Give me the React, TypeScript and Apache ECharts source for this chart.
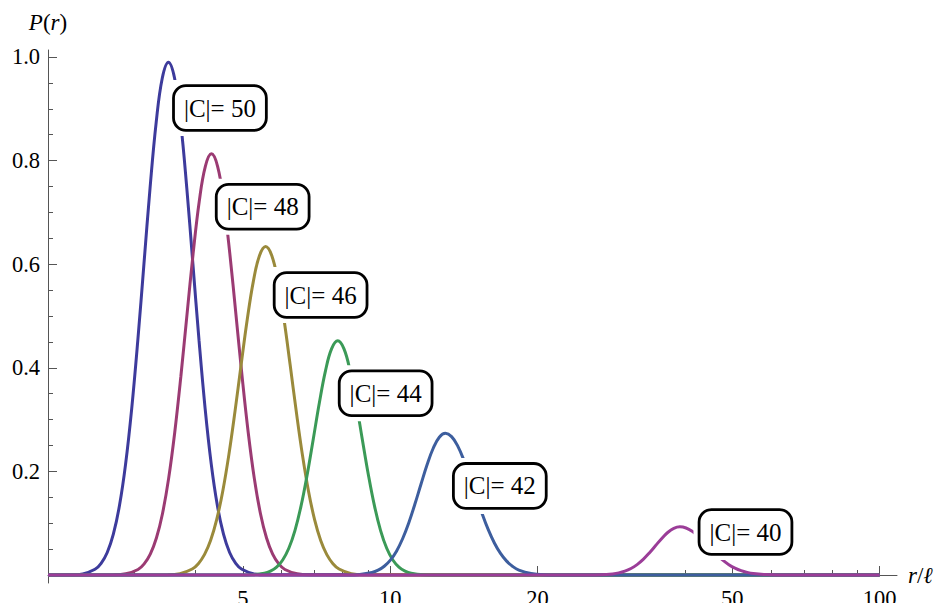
import React, { useEffect, useRef } from "react";
import * as echarts from "echarts";

// Curve samples (r = x, P(r) = y)
const r50 = [2, 2.2235, 2.3552, 2.4948, 2.5677, 2.6426, 2.7198, 2.7992, 2.8809, 2.9651, 3.0516, 3.1408, 3.2325, 3.3269, 3.424, 3.524, 3.6269, 3.7328, 3.8418, 3.954, 4.0694, 4.1883, 4.3106, 4.4365, 4.566, 4.6993, 4.8366, 4.9778, 5.2728, 5.5851, 100];
const p50 = [0, 0.0003, 0.0022, 0.011, 0.0226, 0.0435, 0.0788, 0.134, 0.2141, 0.3214, 0.4533, 0.6005, 0.7473, 0.8737, 0.9595, 0.99, 0.9595, 0.8737, 0.7473, 0.6005, 0.4533, 0.3214, 0.2141, 0.134, 0.0788, 0.0435, 0.0226, 0.011, 0.0022, 0.0003, 0];

const r48 = [2, 2.7226, 2.8839, 3.0548, 3.144, 3.2358, 3.3303, 3.4276, 3.5276, 3.6306, 3.7366, 3.8457, 3.9581, 4.0736, 4.1926, 4.315, 4.441, 4.5707, 4.7041, 4.8415, 4.9829, 5.1284, 5.2782, 5.4323, 5.5909, 5.7541, 5.9222, 6.0951, 6.4563, 6.8388, 100];
const p48 = [0, 0.0004, 0.0023, 0.0107, 0.0215, 0.0403, 0.0714, 0.1189, 0.1866, 0.2757, 0.3837, 0.5028, 0.6204, 0.721, 0.7889, 0.813, 0.7889, 0.721, 0.6204, 0.5028, 0.3837, 0.2757, 0.1866, 0.1189, 0.0714, 0.0403, 0.0215, 0.0107, 0.0023, 0.0004, 0];

const r46 = [2, 3.5126, 3.7206, 3.9412, 4.0562, 4.1746, 4.2966, 4.422, 4.5511, 4.6841, 4.8208, 4.9616, 5.1065, 5.2556, 5.4091, 5.567, 5.7296, 5.8968, 6.069, 6.2463, 6.4287, 6.6164, 6.8096, 7.0085, 7.2131, 7.4237, 7.6405, 7.8636, 8.3296, 8.8231, 100];
const p46 = [0, 0.0005, 0.0027, 0.0116, 0.0219, 0.0393, 0.0666, 0.1069, 0.1623, 0.2329, 0.3163, 0.4063, 0.4936, 0.5673, 0.6166, 0.634, 0.6166, 0.5673, 0.4936, 0.4063, 0.3163, 0.2329, 0.1623, 0.1069, 0.0666, 0.0393, 0.0219, 0.0116, 0.0027, 0.0005, 0];

const r44 = [2, 4.9316, 5.2237, 5.5333, 5.6949, 5.8611, 6.0323, 6.2085, 6.3897, 6.5764, 6.7683, 6.966, 7.1695, 7.3788, 7.5943, 7.816, 8.0442, 8.2791, 8.5208, 8.7697, 9.0258, 9.2893, 9.5606, 9.8398, 10.127, 10.423, 10.727, 11.04, 11.695, 12.388, 100];
const p44 = [0, 0.0001, 0.0006, 0.0034, 0.0075, 0.0152, 0.029, 0.0516, 0.0858, 0.1334, 0.1936, 0.2627, 0.3331, 0.3947, 0.4369, 0.452, 0.4369, 0.3947, 0.3331, 0.2627, 0.1936, 0.1334, 0.0858, 0.0516, 0.029, 0.0152, 0.0075, 0.0034, 0.0006, 0.0001, 0];

const r42 = [2, 8.1836, 8.6684, 9.1821, 9.4502, 9.7261, 10.01, 10.303, 10.603, 10.913, 11.232, 11.56, 11.897, 12.245, 12.602, 12.97, 13.349, 13.738, 14.14, 14.553, 14.977, 15.415, 15.865, 16.328, 16.805, 17.296, 17.801, 18.321, 19.406, 20.556, 23.064, 100];
const p42 = [0, 0.0002, 0.0012, 0.005, 0.0094, 0.0169, 0.0287, 0.0461, 0.07, 0.1005, 0.1365, 0.1753, 0.2129, 0.2447, 0.266, 0.2735, 0.2672, 0.2492, 0.2219, 0.1886, 0.153, 0.1185, 0.0876, 0.0619, 0.0417, 0.0268, 0.0165, 0.0096, 0.0029, 0.0007, 0.0001, 0];

const r40 = [2, 24.658, 26.119, 27.667, 28.474, 29.306, 30.162, 31.042, 31.949, 32.882, 33.842, 34.83, 35.847, 36.894, 37.971, 39.08, 40.221, 41.396, 42.604, 43.849, 45.129, 46.447, 47.803, 49.199, 50.636, 52.114, 53.636, 55.202, 58.473, 61.938, 100];
const p40 = [0, 0, 0.0002, 0.001, 0.0021, 0.0041, 0.0074, 0.0126, 0.0201, 0.0302, 0.0426, 0.0564, 0.0702, 0.0821, 0.0901, 0.093, 0.0908, 0.0845, 0.0749, 0.0633, 0.051, 0.0391, 0.0286, 0.02, 0.0133, 0.0084, 0.0051, 0.0029, 0.0008, 0.0002, 0];

const curveLabels = ["|C|= 50", "|C|= 48", "|C|= 46", "|C|= 44", "|C|= 42", "|C|= 40"];
// callout anchors in data coordinates [r, P]
const calloutR = [4.49, 5.49, 7.21, 9.79, 16.75, 53.2];
const calloutP = [0.9015, 0.711, 0.5405, 0.351, 0.172, 0.083];

const xMajorTicks = [5, 10, 20, 50, 100];
const xMinorTicks = [3, 4, 6, 7, 8, 9, 30, 40, 60, 70, 80, 90];
const yMajorTicks = [0.2, 0.4, 0.6, 0.8, 1.0];
const yMinorTicks = [0.05, 0.1, 0.15, 0.25, 0.3, 0.35, 0.45, 0.5, 0.55, 0.65, 0.7, 0.75, 0.85, 0.9, 0.95];

const colors = ["#3d3b9c", "#9b3b73", "#9a8a3b", "#3b9a57", "#3d5e9e", "#9b3d98"];

export default function App() {
  const ref = useRef<HTMLDivElement>(null);
  useEffect(() => {
    document.body.style.margin = "0";
    const chart = echarts.init(ref.current!, undefined, { renderer: "svg" });
    const font = "Liberation Serif";
    const axisColor = "#555";
    const rs = [r50, r48, r46, r44, r42, r40];
    const ps = [p50, p48, p46, p44, p42, p40];
    const series = rs.map((r, i) => ({
      type: "line",
      name: curveLabels[i],
      data: r.map((x, j) => [x, ps[i][j]]),
      smooth: 0.4,
      symbol: "none",
      xAxisIndex: 0,
      yAxisIndex: 0,
      lineStyle: { color: colors[i], width: 3 },
      itemStyle: { color: colors[i] },
      markPoint: {
        symbol: "rect",
        symbolSize: [104, 56],
        silent: true,
        itemStyle: { color: "#ffffff" },
        label: {
          show: true,
          position: "inside",
          formatter: "{b}",
          color: "#000",
          fontFamily: font,
          fontSize: 25,
          lineHeight: 25,
          backgroundColor: "#ffffff",
          borderColor: "#000",
          borderWidth: 2.8,
          borderRadius: 11,
          padding: [9, 9, 8, 9],
        },
        data: [{ name: curveLabels[i], coord: [calloutR[i], calloutP[i]] }],
      },
    }));

    const richItalic = { i: { fontStyle: "italic", fontFamily: font, fontSize: 23, color: "#000" } };

    chart.setOption({
      animation: false,
      backgroundColor: "#ffffff",
      textStyle: { fontFamily: font },
      grid: { left: 48, right: 47, top: 50, bottom: 20, containLabel: false, outerBoundsMode: "none" },
      xAxis: [
        {
          type: "log",
          logBase: 10,
          min: 2,
          max: 108.5,
          position: "bottom",
          axisLine: { show: true, onZero: true, lineStyle: { color: axisColor, width: 1 } },
          axisTick: { show: true, inside: true, length: 9, customValues: xMajorTicks, lineStyle: { color: axisColor, width: 1 } },
          axisLabel: { show: true, customValues: xMajorTicks, margin: 4, color: "#000", fontSize: 22.5, fontFamily: font },
          splitLine: { show: false },
          minorTick: { show: false },
          name: "{i|r}/{i|ℓ}",
          nameLocation: "end",
          nameGap: 11,
          nameTextStyle: { color: "#000", fontFamily: font, fontSize: 23, rich: richItalic },
        },
        {
          type: "log",
          logBase: 10,
          min: 2,
          max: 108.5,
          position: "bottom",
          axisLine: { show: false, onZero: true },
          axisTick: { show: true, inside: true, length: 5, customValues: xMinorTicks, lineStyle: { color: axisColor, width: 1 } },
          axisLabel: { show: false },
          splitLine: { show: false },
        },
      ],
      yAxis: [
        {
          type: "value",
          min: -0.0154,
          max: 1.0135,
          position: "left",
          axisLine: { show: true, onZero: false, lineStyle: { color: axisColor, width: 1 } },
          axisTick: { show: true, inside: true, length: 9, customValues: yMajorTicks, lineStyle: { color: axisColor, width: 1 } },
          axisLabel: {
            show: true,
            customValues: yMajorTicks,
            margin: 8,
            color: "#000",
            fontSize: 22.5,
            fontFamily: font,
            formatter: (v: number) => v.toFixed(1),
          },
          splitLine: { show: false },
          name: "{i|P}({i|r})",
          nameLocation: "end",
          nameGap: 16,
          nameTextStyle: { color: "#000", fontFamily: font, fontSize: 23, rich: richItalic },
        },
        {
          type: "value",
          min: -0.0154,
          max: 1.0135,
          position: "left",
          axisLine: { show: false, onZero: false },
          axisTick: { show: true, inside: true, length: 5, customValues: yMinorTicks, lineStyle: { color: axisColor, width: 1 } },
          axisLabel: { show: false },
          splitLine: { show: false },
        },
      ],
      series,
    });
    return () => chart.dispose();
  }, []);
  return <div ref={ref} style={{ width: 944, height: 603 }} />;
}
